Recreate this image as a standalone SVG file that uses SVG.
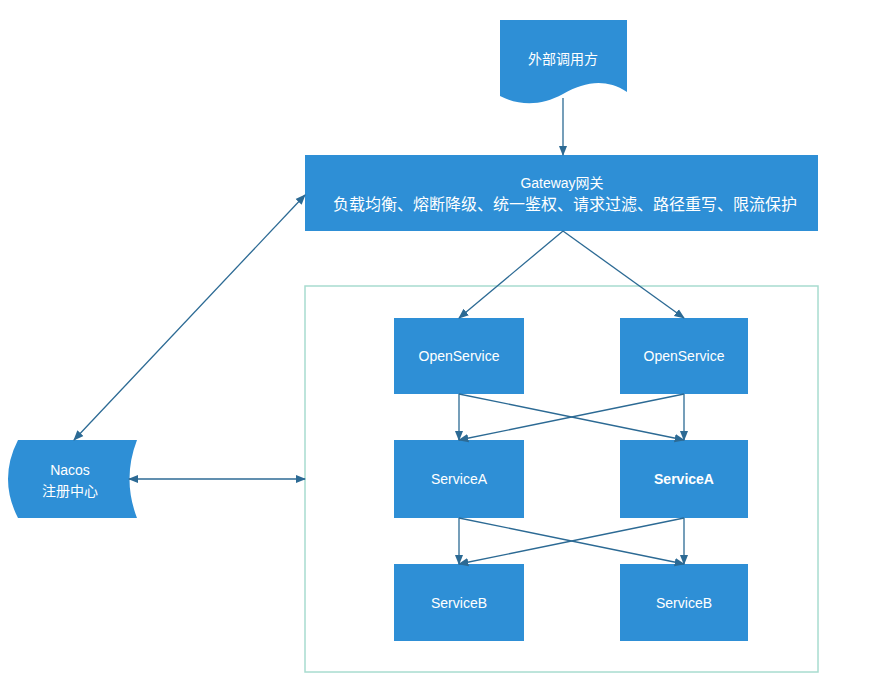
<svg xmlns="http://www.w3.org/2000/svg" width="882" height="699" viewBox="0 0 882 699">
<style>
.n{fill:#2e8fd6}
.t{fill:#fff;font-family:"Liberation Sans","Noto Sans CJK SC",sans-serif;font-size:14px;text-anchor:middle}
.c{stroke:#2c6a94;stroke-width:1.3;fill:none}
</style>
<defs>
<marker id="a" viewBox="0 0 10 10" refX="9" refY="5" markerWidth="8" markerHeight="8" orient="auto-start-reverse"><path d="M0,1L10,5L0,9z" fill="#2c6a94"/></marker>
</defs>
<rect width="882" height="699" fill="#fff"/>
<rect x="305" y="286" width="513" height="386" fill="none" stroke="#a8dccf" stroke-width="1.5"/>
<g id="caller"><path class="n" d="M500,20H627V92C605,78 585,82 563,94C541,106 520,106 500,96Z"/><text class="t" x="563" y="64">外部调用方</text></g>
<g id="gateway"><rect class="n" x="305" y="155" width="513" height="76"/><text class="t" x="562" y="188">Gateway网关</text><text class="t" x="565" y="210" style="font-size:16px">负载均衡、熔断降级、统一鉴权、请求过滤、路径重写、限流保护</text></g>
<g id="nacos"><path class="n" d="M18,440H137Q122,479 137,518H18Q-2,479 18,440Z"/><text class="t" x="70" y="475">Nacos</text><text class="t" x="70" y="496">注册中心</text></g>
<g id="open1"><rect class="n" x="394" y="318" width="130" height="76"/><text class="t" x="459" y="361">OpenService</text></g>
<g id="open2"><rect class="n" x="620" y="318" width="128" height="76"/><text class="t" x="684" y="361">OpenService</text></g>
<g id="a1"><rect class="n" x="394" y="440" width="130" height="78"/><text class="t" x="459" y="484">ServiceA</text></g>
<g id="a2"><rect class="n" x="620" y="440" width="128" height="78"/><text class="t" x="684" y="484" font-weight="bold">ServiceA</text></g>
<g id="b1"><rect class="n" x="394" y="564" width="130" height="77"/><text class="t" x="459" y="608">ServiceB</text></g>
<g id="b2"><rect class="n" x="620" y="564" width="128" height="77"/><text class="t" x="684" y="608">ServiceB</text></g>
<g id="connectors">
<path class="c" d="M563,98V155" marker-end="url(#a)"/>
<path class="c" d="M563,231L459,318" marker-end="url(#a)"/>
<path class="c" d="M563,231L684,318" marker-end="url(#a)"/>
<path class="c" d="M459,394V440" marker-end="url(#a)"/>
<path class="c" d="M459,394L684,440" marker-end="url(#a)"/>
<path class="c" d="M684,394V440" marker-end="url(#a)"/>
<path class="c" d="M684,394L459,440" marker-end="url(#a)"/>
<path class="c" d="M459,518V564" marker-end="url(#a)"/>
<path class="c" d="M459,518L684,564" marker-end="url(#a)"/>
<path class="c" d="M684,518V564" marker-end="url(#a)"/>
<path class="c" d="M684,518L459,564" marker-end="url(#a)"/>
<path class="c" d="M74,440L305,195" marker-start="url(#a)" marker-end="url(#a)"/>
<path class="c" d="M129,479H305" marker-start="url(#a)" marker-end="url(#a)"/>
</g>
</svg>
